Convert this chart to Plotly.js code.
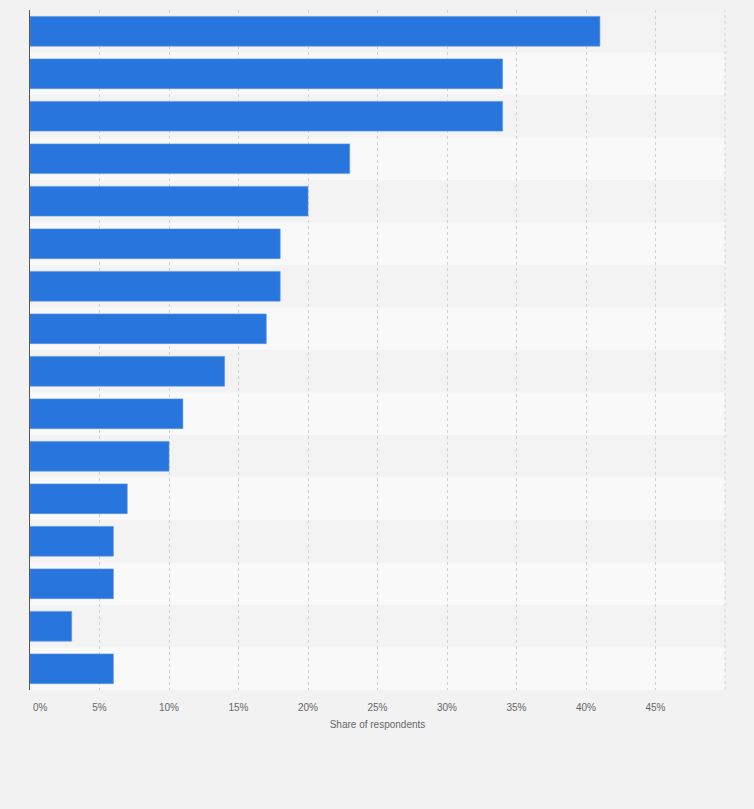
<!DOCTYPE html>
<html>
<head>
<meta charset="utf-8">
<script src="https://cdn.plot.ly/plotly-3.0.1.min.js"></script>
<style>
html,body{margin:0;padding:0;background:#f2f2f2;}
#chart{width:754px;height:809px;}
</style>
</head>
<body>
<div id="chart"></div>
<script>
// Data (category labels are not shown in the reference)
var categories = ["Item 1","Item 2","Item 3","Item 4","Item 5","Item 6","Item 7","Item 8",
                  "Item 9","Item 10","Item 11","Item 12","Item 13","Item 14","Item 15","Item 16"];
var shares = [41, 34, 34, 23, 20, 18, 18, 17, 14, 11, 10, 7, 6, 6, 3, 6];
var tickValues = [0, 5, 10, 15, 20, 25, 30, 35, 40, 45, 50];
var tickLabels = ["", "5%", "10%", "15%", "20%", "25%", "30%", "35%", "40%", "45%", ""];

var trace = {
  type: 'bar',
  orientation: 'h',
  x: shares,
  y: categories,
  width: 0.7,
  marker: {color: '#2876dd', line: {color: '#5c97e4', width: 0.6}},
  hovertemplate: '%{x}%<extra></extra>'
};

// alternating background bands
var shapes = [];
for (var i = 0; i < categories.length; i++) {
  shapes.push({
    type: 'rect', layer: 'below',
    xref: 'paper', x0: 0, x1: 1,
    yref: 'y', y0: i - 0.5, y1: i + 0.5,
    fillcolor: (i % 2 === 0) ? '#f3f3f3' : '#f9f9f9',
    line: {width: 0}
  });
}
// right-edge dotted grid line (50%)
shapes.push({
  type: 'line', layer: 'below',
  xref: 'paper', x0: 1, x1: 1, yref: 'paper', y0: 0, y1: 1,
  line: {color: '#d2d2d2', width: 1, dash: 'dot'}
});

var layout = {
  width: 754, height: 809,
  margin: {l: 30, r: 29, t: 10, b: 119},
  paper_bgcolor: '#f2f2f2',
  plot_bgcolor: '#f2f2f2',
  showlegend: false,
  bargap: 0.3,
  font: {family: 'Liberation Sans, Arial, sans-serif', color: '#666666', size: 10},
  xaxis: {
    range: [0, 50],
    tickvals: tickValues,
    ticktext: tickLabels,
    showgrid: true,
    gridcolor: '#d2d2d2',
    griddash: 'dot',
    gridwidth: 1,
    zeroline: false,
    showline: false,
    ticks: 'outside',
    ticklen: 8,
    tickcolor: 'rgba(0,0,0,0)',
    tickfont: {size: 10, color: '#666666'},
    title: {text: 'Share of respondents', font: {size: 10, color: '#666666'}, standoff: 8},
    fixedrange: true
  },
  yaxis: {
    type: 'category',
    autorange: 'reversed',
    showticklabels: false,
    ticks: '',
    showgrid: false,
    zeroline: false,
    showline: true,
    linecolor: '#555555',
    linewidth: 1,
    fixedrange: true
  },
  shapes: shapes,
  annotations: [{
    text: '0%', xref: 'x', x: 0, yref: 'paper', y: 0,
    xanchor: 'left', yanchor: 'top', yshift: -10, xshift: 1,
    showarrow: false, font: {size: 10, color: '#666666'}
  }]
};

Plotly.newPlot('chart', [trace], layout, {displayModeBar: false, staticPlot: true});
</script>
</body>
</html>
